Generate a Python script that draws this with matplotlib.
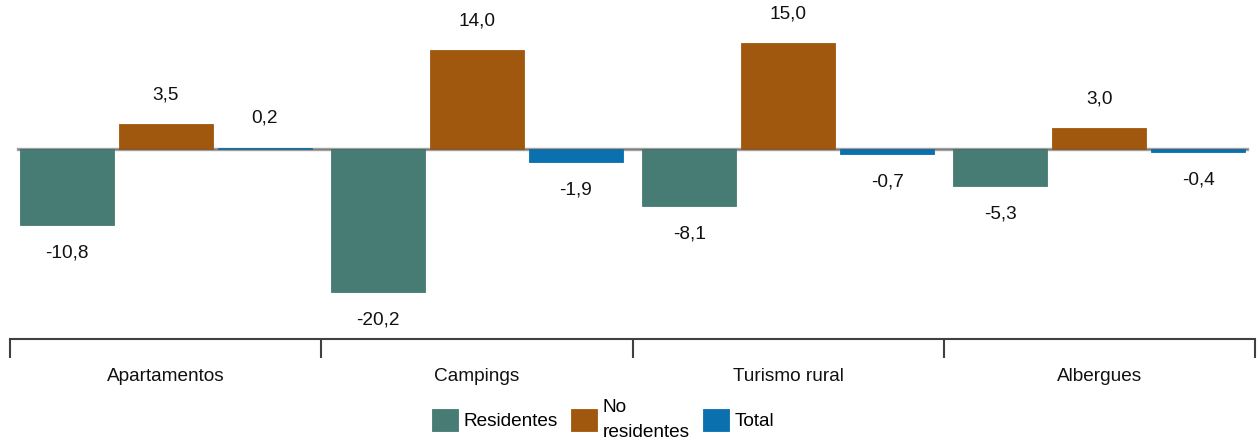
import numpy as np
import matplotlib
matplotlib.use("Agg")
import matplotlib.pyplot as plt

plt.rcParams['font.family'] = ['Liberation Sans', 'DejaVu Sans']

categories = ["Apartamentos", "Campings", "Turismo rural", "Albergues"]
series = ["Residentes", "No\nresidentes", "Total"]
residentes = [-10.8, -20.2, -8.1, -5.3]
no_residentes = [3.5, 14.0, 15.0, 3.0]
total = [0.2, -1.9, -0.7, -0.4]
colors = ["#467C73", "#A0580E", "#0A70AE"]

W, H = 1257, 446
fig = plt.figure(figsize=(W / 100, H / 100), dpi=100)
# axes: left at x=10, bottom spine at y=339
ax = fig.add_axes([10 / W, 1 - 339 / H, 1245 / W, 339 / H])

px_per_unit = 7.07
ax.set_ylim(-(339 - 149) / px_per_unit, 149 / px_per_unit)
ax.set_xlim(0, 4)

x = np.arange(len(categories)) + 0.5
offsets = [-0.318, 0.0, 0.318]
width = 0.302
fs = 13.7

for vals, off, col, lab in zip([residentes, no_residentes, total], offsets, colors, series):
    bars = ax.bar(x + off, vals, width, color=col, label=lab, zorder=2,
                  edgecolor=col, linewidth=0.6)
    for b, v in zip(bars, vals):
        yoff = 21 if v >= 0 else -20
        ax.annotate(f"{v:.1f}".replace(".", ","),
                    (b.get_x() + b.get_width() / 2, v),
                    xytext=(0, yoff), textcoords="offset points",
                    ha="center", va="center", fontsize=fs, color="#111111")

ax.axhline(0, xmin=8 / 1245, xmax=1237 / 1245, color="#a0a0a0", lw=2.4, zorder=1)
ax.axhline(0, xmin=8 / 1245, xmax=1237 / 1245, color="#555555", lw=0.6, alpha=0.5, zorder=3)

for s in ["top", "left", "right"]:
    ax.spines[s].set_visible(False)
ax.spines["bottom"].set_color("#404040")
ax.spines["bottom"].set_linewidth(1.5)
ax.set_yticks([])

ax.set_xticks(np.arange(len(categories) + 1), minor=True)
ax.tick_params(axis="x", which="minor", length=14, width=1.5, color="#404040", direction="out")
ax.set_xticks(x)
ax.set_xticklabels(categories, fontsize=fs, color="#111111")
ax.tick_params(axis="x", which="major", length=0, pad=21)
for t in ax.xaxis.get_minorticklines():
    t.set_clip_on(False)

leg = fig.legend(loc="center", bbox_to_anchor=(603 / W, 1 - 420 / H), ncol=3,
                 frameon=False, fontsize=fs, handlelength=1.35, handleheight=1.35,
                 handletextpad=0.3, columnspacing=0.7, borderpad=0, labelspacing=0.2)
for t in leg.get_texts():
    t.set_linespacing(1.55)

fig.savefig("out.png", dpi=100)
